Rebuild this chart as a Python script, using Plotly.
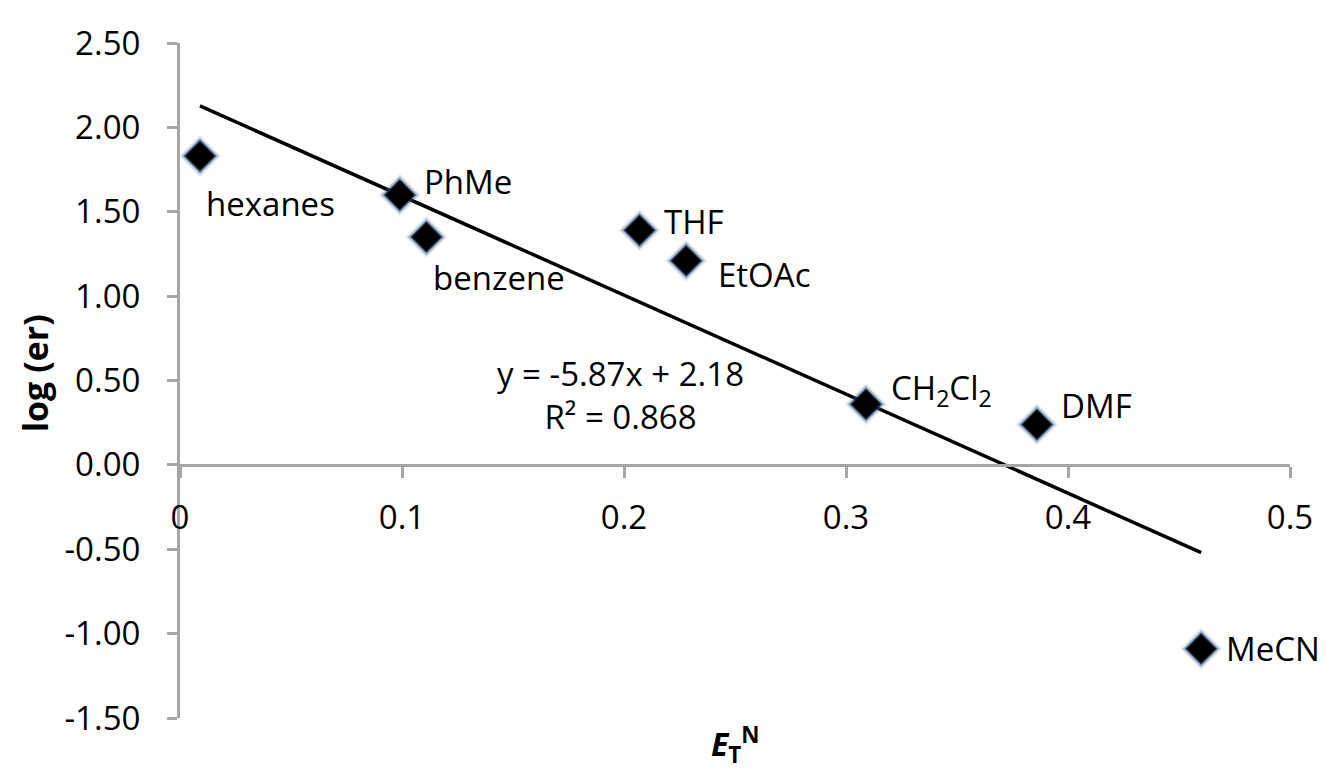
import plotly.graph_objects as go

# Data
solvents = ["hexanes", "PhMe", "benzene", "THF", "EtOAc", "CH<sub>2</sub>Cl<sub>2</sub>", "DMF", "MeCN"]
etn = [0.009, 0.099, 0.111, 0.207, 0.228, 0.309, 0.386, 0.460]
log_er = [1.83, 1.60, 1.35, 1.39, 1.21, 0.36, 0.24, -1.09]
slope = -5.87
intercept = 2.18
r2 = 0.868
x_ticks = [0, 0.1, 0.2, 0.3, 0.4, 0.5]
x_ticktext = ["0", "0.1", "0.2", "0.3", "0.4", "0.5"]
y_ticks = [2.5, 2.0, 1.5, 1.0, 0.5, 0.0, -0.5, -1.0, -1.5]
y_ticktext = [f"{v:.2f}" for v in y_ticks]

# label offsets (pixels) relative to each point
label_dx = [4, 22, 5, 22, 30, 23, 22, 23]
label_dy = [-47, 13, -40, 9, -14, 15, 19, 0]

FONT = "Open Sans"
AX = "#a6a6a6"
FS = 33

fit_x = [min(etn), max(etn)]
fit_y = [slope * v + intercept for v in fit_x]

fig = go.Figure()
fig.add_trace(go.Scatter(x=fit_x, y=fit_y, mode="lines",
                         line=dict(color="black", width=3.5), hoverinfo="skip"))
# glow layers
fig.add_trace(go.Scatter(x=etn, y=log_er, mode="markers",
                         marker=dict(symbol="diamond", size=33, color="rgba(90,120,160,0.12)",
                                     line=dict(width=0)), hoverinfo="skip"))
fig.add_trace(go.Scatter(x=etn, y=log_er, mode="markers",
                         marker=dict(symbol="diamond", size=29, color="rgba(50,90,140,0.35)",
                                     line=dict(width=0)), hoverinfo="skip"))
fig.add_trace(go.Scatter(x=etn, y=log_er, mode="markers",
                         marker=dict(symbol="diamond", size=25, color="rgba(20,40,70,0.8)",
                                     line=dict(width=0)), hoverinfo="skip"))
fig.add_trace(go.Scatter(x=etn, y=log_er, mode="markers",
                         marker=dict(symbol="diamond", size=22, color="black",
                                     line=dict(width=0))))

annotations = []
for name, xv, yv, dx, dy in zip(solvents, etn, log_er, label_dx, label_dy):
    annotations.append(dict(x=xv, y=yv, xref="x", yref="y", text=name, showarrow=False,
                            xanchor="left", yanchor="middle", xshift=dx, yshift=dy,
                            font=dict(family=FONT, size=FS, color="black")))

annotations.append(dict(x=0.1986, y=0.415, xref="x", yref="y",
                        text=f"y = {slope:.2f}x + {intercept:.2f}<br>R² = {r2:.3f}",
                        showarrow=False, align="center", xanchor="center", yanchor="middle",
                        font=dict(family=FONT, size=FS, color="black")))
annotations.append(dict(x=0.5, y=-0.039, xref="paper", yref="paper",
                        text="<b><i>E</i><sub>T</sub><sup>N</sup></b>", showarrow=False,
                        xanchor="center", yanchor="middle",
                        font=dict(family=FONT, size=32, color="black")))
annotations.append(dict(x=-0.131, y=0.51, xref="paper", yref="paper",
                        text="<b>log (er)</b>", showarrow=False, textangle=-90,
                        xanchor="center", yanchor="middle",
                        font=dict(family=FONT, size=34, color="black")))

fig.update_layout(
    width=1318, height=765,
    margin=dict(l=172, r=36, t=25, b=55),
    paper_bgcolor="white", plot_bgcolor="white",
    showlegend=False,
    font=dict(family=FONT, size=FS, color="black"),
    annotations=annotations,
    xaxis=dict(range=[0, 0.5], tickvals=x_ticks, ticktext=x_ticktext,
               anchor="free", position=0.375,
               showline=True, linecolor=AX, linewidth=3,
               ticks="outside", ticklen=11, tickwidth=3, tickcolor=AX,
               ticklabelstandoff=12, tickfont=dict(size=FS),
               showgrid=False, zeroline=False),
    yaxis=dict(range=[-1.5, 2.5], tickvals=y_ticks, ticktext=y_ticktext,
               showline=True, linecolor=AX, linewidth=3,
               ticks="outside", ticklen=10, tickwidth=3, tickcolor=AX,
               ticklabelstandoff=20, tickfont=dict(size=FS),
               showgrid=False, zeroline=False),
)

fig.write_html("out.html")
